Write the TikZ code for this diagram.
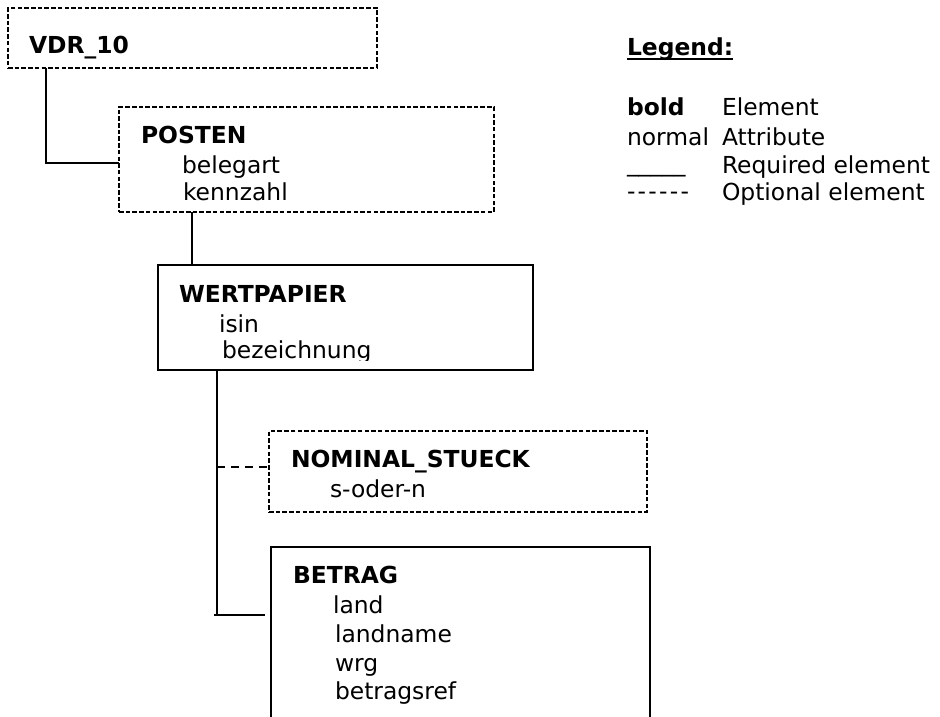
\documentclass[tikz,border=0pt]{standalone}
\usepackage{fontspec}
\setmainfont{DejaVu Sans}
\begin{document}
\begin{tikzpicture}[x=1pt,y=-1pt,
  txt/.style={inner sep=0pt,outer sep=0pt,anchor=base west,font=\fontsize{23.4}{28}\selectfont},
  btxt/.style={txt,font=\fontsize{23.4}{28}\selectfont\bfseries},
  boxbase/.style={draw=black,line width=2pt,inner sep=0pt,outer sep=0pt,anchor=north west,rectangle},
  optbox/.style={boxbase,dash pattern=on 4.5pt off 2.2pt},
  reqbox/.style={boxbase},
  conn/.style={draw=black,line width=2pt},
  optconn/.style={conn,dash pattern=on 8pt off 6pt}]
\useasboundingbox (0,0) rectangle (940,716);
\begin{scope}
\clip (0,0) rectangle (940,716);
% boxes
\node[optbox,minimum width=369pt,minimum height=60pt] (vdr) at (8,8) {};
\node[optbox,minimum width=375pt,minimum height=105pt] (posten) at (119,107) {};
\node[reqbox,minimum width=375pt,minimum height=105pt] (wert) at (158,265) {};
\node[optbox,minimum width=378pt,minimum height=81pt] (nominal) at (269,431) {};
\node[reqbox,minimum width=379pt,minimum height=220pt] (betrag) at (271,547) {};
\end{scope}
% texts
\node[btxt] (tvdr) at (29,53) {VDR\_10};
\node[btxt] (tposten) at (141,143) {POSTEN};
\node[txt] (tbeleg) at (182,173) {belegart};
\node[txt] (tkenn) at (183,200) {kennzahl};
\node[btxt] (twert) at (179,302) {WERTPAPIER};
\node[txt] (tisin) at (219,332) {isin};
\begin{scope}
\clip (150,250) rectangle (540,360);
\node[txt] (tbez) at (222,358) {bezeichnung};
\end{scope}
\node[btxt] (tnom) at (291,467) {NOMINAL\_STUECK};
\node[txt] (tson) at (330,497) {s-oder-n};
\node[btxt] (tbet) at (293,583) {BETRAG};
\node[txt] (tland) at (333,613) {land};
\node[txt] (tlandn) at (335,642) {landname};
\node[txt] (twrg) at (335,671) {wrg};
\node[txt] (tbref) at (335,699) {betragsref};
% connectors
\draw[conn] ([xshift=38pt]vdr.south west) |- ([yshift=-3.5pt]posten.west);
\draw[conn] ([xshift=34pt]wert.north west) -- ([xshift=34pt]wert.north west |- posten.south);
\coordinate (tb) at (217,615);
\coordinate (tn) at (217,467);
\draw[conn] ([xshift=59pt]wert.south west) -- (tb);
\draw[conn] ([xshift=-3pt]tb) -- ([xshift=-6pt]betrag.west |- tb);
\draw[optconn] (tn) -- (nominal.west |- tn);
% legend
\node[btxt] (leg) at (627,55) {Legend:};
\draw[line width=2pt] ([yshift=-4pt]leg.base west) -- ([yshift=-4pt]leg.base east);
\node[btxt] (lbold) at (627,115) {bold};
\node[txt] (lel) at (722,115) {Element};
\node[txt] (lnorm) at (627,145) {normal};
\node[txt] (lattr) at (722,145) {Attribute};
\node[txt] (lreqs) at (627,171) {\_\_\_\_\_};
\node[txt] (lreq) at (722,173) {Required element};
\node[txt] (lopts) at (627,199) {-\kern2.3pt-\kern2.3pt-\kern2.3pt-\kern2.3pt-\kern2.3pt-};
\node[txt] (lopt) at (722,200) {Optional element};
\end{tikzpicture}
\end{document}
